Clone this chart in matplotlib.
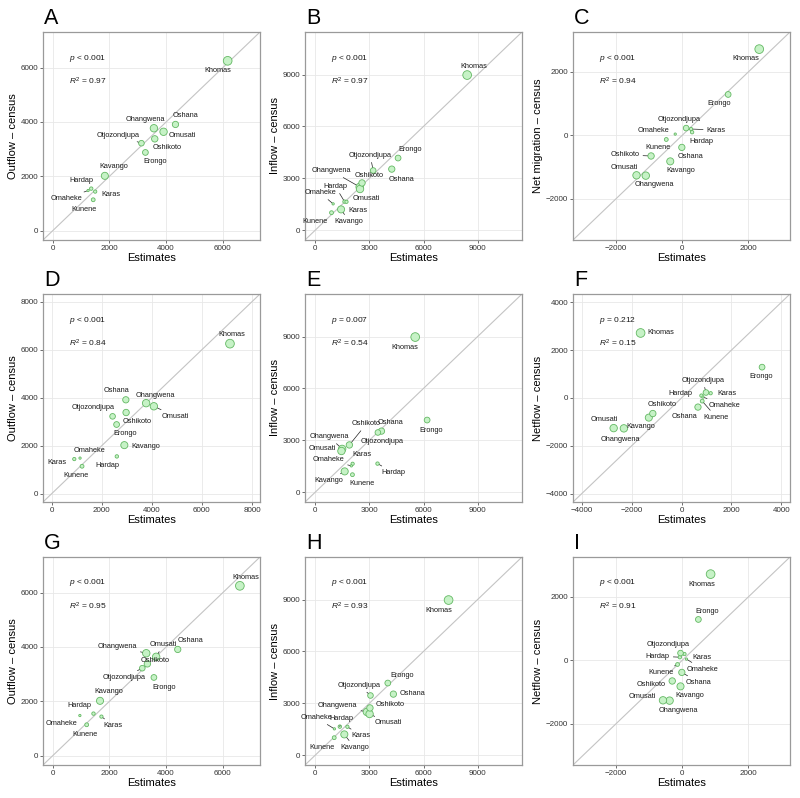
import numpy as np
import matplotlib
matplotlib.use("Agg")
import matplotlib.pyplot as plt

plt.rcParams['font.family'] = ['Liberation Sans', 'DejaVu Sans']
plt.rcParams['mathtext.fontset'] = 'custom'
plt.rcParams['mathtext.rm'] = 'Liberation Sans'
plt.rcParams['mathtext.it'] = 'Liberation Sans:italic'

regions = ["Erongo", "Hardap", "Karas", "Kavango", "Khomas", "Kunene",
           "Ohangwena", "Omaheke", "Omusati", "Oshana", "Oshikoto", "Otjozondjupa"]
# population (thousands) used for the point size
population = [150.8, 79.5, 77.4, 223.4, 342.1, 86.9, 245.4, 71.2, 243.2, 176.7, 182.0, 143.9]

census_outflow = [2880, 1550, 1440, 2020, 6250, 1140, 3770, 1480, 3640, 3910, 3380, 3220]
census_inflow = [4170, 1650, 1640, 1200, 8970, 1010, 2500, 1520, 2380, 3530, 2730, 3450]
census_net = [1290, 100, 200, -820, 2720, -130, -1270, 40, -1260, -380, -650, 230]

est_A = [3270, 1360, 1500, 1840, 6170, 1430, 3570, 1250, 3910, 4330, 3600, 3130]
est_B = [4590, 1620, 1730, 1430, 8420, 900, 2460, 990, 2480, 4240, 2590, 3210]
est_C = [1390, 300, 270, -360, 2330, -480, -1100, -210, -1380, -10, -940, 120]
est_D = [2590, 2600, 900, 2900, 7120, 1210, 3770, 1130, 4080, 2960, 2970, 2430]
est_E = [6200, 3450, 2070, 1630, 5540, 2060, 1490, 2000, 1450, 3670, 1890, 3470]
est_F = [3230, 800, 1170, -1310, -1640, 830, -2310, 860, -2720, 660, -1150, 980]
est_G = [3570, 1440, 1720, 1670, 6600, 1200, 3300, 960, 3650, 4410, 3340, 3160]
est_H = [4020, 1360, 1780, 1610, 7390, 1050, 2860, 1060, 3010, 4330, 3030, 3060]
est_I = [490, -70, 70, -50, 860, -140, -380, 130, -580, -10, -300, -50]

p_texts = ["< 0.001", "< 0.001", "< 0.001", "< 0.001", "= 0.007", "= 0.212",
           "< 0.001", "< 0.001", "< 0.001"]
r2_texts = ["0.97", "0.97", "0.94", "0.84", "0.54", "0.15", "0.95", "0.93", "0.91"]

# label offsets in pixels (dx, dy, leader line), same order as regions
offs_A = [(10, -9, 0), (-10, 8, 0), (16, -3, 0), (9, 9, 0), (-10, -10, 0), (-9, -10, 0),
          (-9, 9, 0), (-22, -8, 1), (19, -4, 0), (10, 9, 0), (12, -9, 0), (-23, 8, 1)]
offs_B = [(12, 9, 0), (-9, 15, 1), (11, -9, 0), (8, -12, 1), (7, 9, 0), (-17, -9, 0),
          (-28, 16, 1), (-13, 11, 1), (6, -10, 0), (10, -10, 0), (7, 7, 0), (-3, 15, 1)]
offs_C = [(-9, -9, 0), (9, -9, 0), (25, -1, 1), (10, -9, 0), (-13, -9, 0), (-8, -8, 0),
          (9, -9, 0), (-22, 4, 0), (-12, 8, 0), (9, -9, 0), (-26, 1, 1), (-7, 9, 0)]
offs_D = [(9, -9, 0), (-9, -9, 0), (-17, -3, 0), (21, -1, 0), (2, 9, 0), (-6, -9, 0),
          (9, 8, 0), (9, 8, 0), (21, -10, 1), (-9, 9, 0), (11, -9, 0), (-19, 9, 0)]
offs_E = [(4, -10, 0), (16, -9, 1), (9, 9, 0), (-16, -9, 1), (-10, -10, 0), (10, -9, 0),
          (-13, 12, 1), (-23, 6, 1), (-19, 2, 0), (9, 9, 0), (17, 21, 1), (4, -9, 0)]
offs_F = [(-1, -9, 0), (-21, 2, 0), (16, 0, 0), (-8, -9, 0), (20, 0, 0), (14, -16, 1),
          (-4, -11, 0), (22, -8, 1), (-9, 9, 0), (-13, -9, 0), (9, 9, 0), (-3, 12, 1)]
offs_G = [(10, -10, 0), (-14, 8, 0), (12, -9, 1), (9, 9, 0), (6, 8, 0), (-2, -10, 0),
          (-29, 7, 1), (-18, -8, 0), (7, 12, 1), (13, 9, 0), (8, 3, 0), (-18, -9, 1)]
offs_H = [(14, 8, 0), (2, 8, 1), (14, -9, 1), (10, -13, 1), (-10, -10, 0), (-12, -10, 0),
          (-29, 6, 1), (-18, 11, 1), (19, -9, 1), (19, 1, 0), (20, 3, 0), (-11, 10, 1)]
offs_I = [(9, 8, 0), (-22, 1, 1), (17, -3, 0), (9, -9, 0), (-9, -10, 0), (-17, -8, 1),
          (9, -10, 0), (16, -10, 1), (-21, 4, 0), (17, -10, 1), (-21, -4, 0), (-12, 9, 0)]

panels = [
    ("A", est_A, census_outflow, "Outflow \u2013 census", (-340, 7310), range(0, 6001, 2000), offs_A),
    ("B", est_B, census_inflow, "Inflow \u2013 census", (-570, 11460), range(0, 9001, 3000), offs_B),
    ("C", est_C, census_net, "Net migration \u2013 census", (-3300, 3260), range(-2000, 2001, 2000), offs_C),
    ("D", est_D, census_outflow, "Outflow \u2013 census", (-350, 8320), range(0, 8001, 2000), offs_D),
    ("E", est_E, census_inflow, "Inflow \u2013 census", (-570, 11460), range(0, 9001, 3000), offs_E),
    ("F", est_F, census_net, "Netflow \u2013 census", (-4350, 4350), range(-4000, 4001, 2000), offs_F),
    ("G", est_G, census_outflow, "Outflow \u2013 census", (-340, 7310), range(0, 6001, 2000), offs_G),
    ("H", est_H, census_inflow, "Inflow \u2013 census", (-570, 11460), range(0, 9001, 3000), offs_H),
    ("I", est_I, census_net, "Netflow \u2013 census", (-3300, 3260), range(-2000, 2001, 2000), offs_I),
]

# point diameter (px) grows with sqrt of rescaled population
pop = np.array(population)
diam_px = 2.3 + 6.4 * np.sqrt((pop - pop.min()) / (pop.max() - pop.min()))
diam_pt = diam_px * 0.72
sizes = diam_pt ** 2

fig = plt.figure(figsize=(8, 7.98), dpi=100)
W, H = 800, 798
col_left = [43, 305, 573]
row_top = [32, 294, 557]
aw, ah = 217, 208

for k, (letter, est, cen, ylab, lim, ticks, offs) in enumerate(panels):
    r, c = divmod(k, 3)
    left = col_left[c] / W
    bottom = 1 - (row_top[r] + ah) / H
    ax = fig.add_axes([left, bottom, aw / W, ah / H])
    ax.set_xlim(lim)
    ax.set_ylim(lim)
    ax.set_xticks(list(ticks))
    ax.set_yticks(list(ticks))
    ax.grid(True, color='#e8e8e8', lw=0.6)
    ax.set_axisbelow(True)
    for sp in ax.spines.values():
        sp.set_color('#9a9a9a')
        sp.set_linewidth(0.9)
    ax.tick_params(length=2, width=0.5, color='#333333', labelsize=5.8,
                   labelcolor='#333333', pad=1.5)
    ax.axline((0, 0), slope=1, color='#c4c4c4', lw=0.8, zorder=1)

    ax.scatter(est, cen, s=sizes, facecolor='#c6f2c6', edgecolor='#63b863',
               linewidths=0.6, zorder=3)

    for i, name in enumerate(regions):
        dx, dy, seg = offs[i]
        kw = {}
        if seg:
            kw['arrowprops'] = dict(arrowstyle='-', color='#222222', lw=0.5,
                                    shrinkA=0.5, shrinkB=diam_pt[i] / 2 + 0.3)
        ax.annotate(name, (est[i], cen[i]), xytext=(dx, dy), textcoords='offset pixels',
                    ha='center', va='center', fontsize=5.3, color='#1a1a1a', zorder=4, **kw)

    ax.text(0.12, 0.875, "$p$ " + p_texts[k], transform=ax.transAxes,
            fontsize=6.0, ha='left', va='center', color='#1a1a1a')
    ax.text(0.12, 0.765, "$R^2$ = " + r2_texts[k], transform=ax.transAxes,
            fontsize=6.0, ha='left', va='center', color='#1a1a1a')

    ax.set_xlabel("Estimates", fontsize=8, labelpad=1)
    ax.set_ylabel(ylab, fontsize=8, labelpad=2)
    fig.text(left + 1 / W, 1 - (row_top[r] - 8) / H, letter, fontsize=15.5,
             ha='left', va='baseline')

fig.savefig("out.png", dpi=100)
